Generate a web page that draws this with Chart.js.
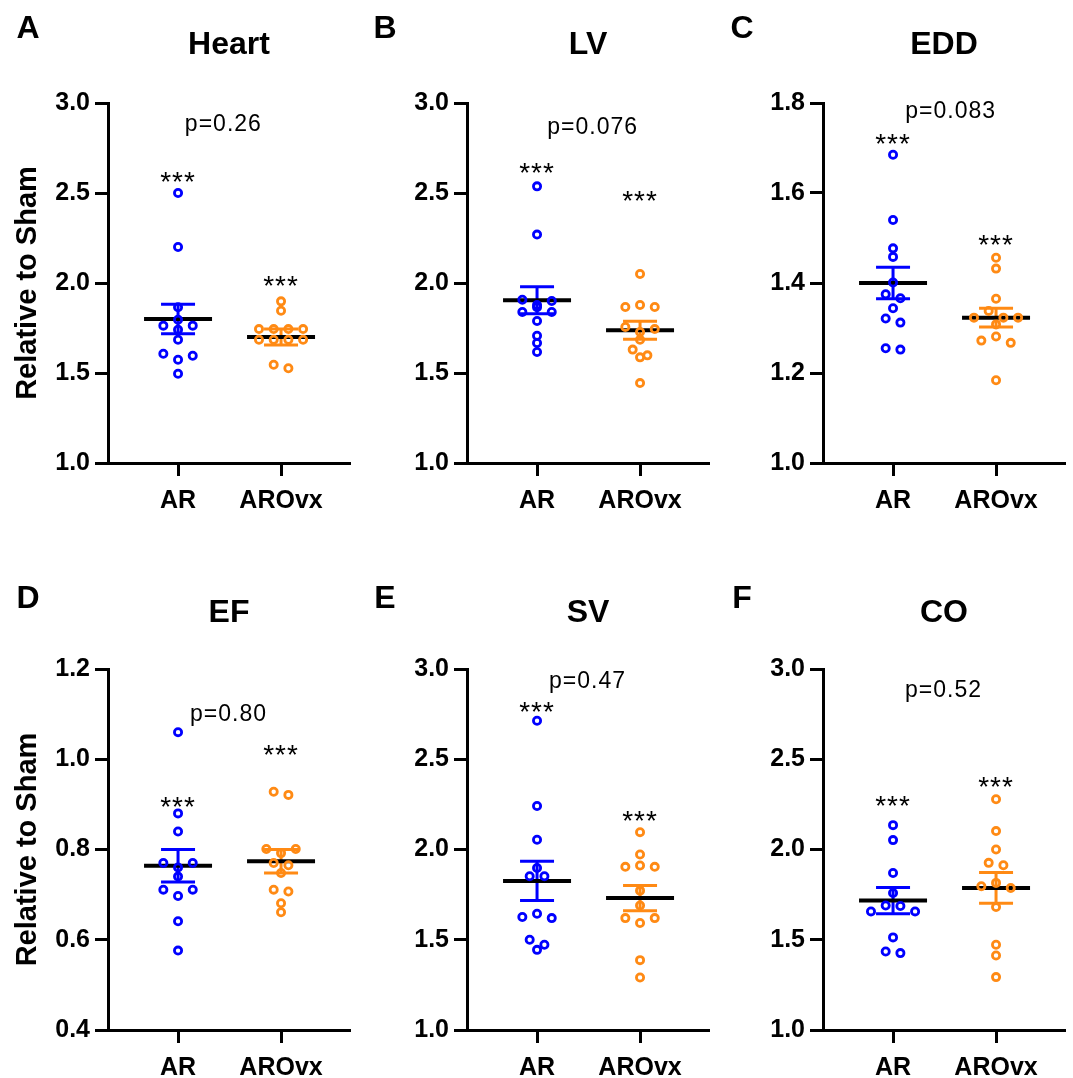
<!DOCTYPE html>
<html lang="en">
<head>
<meta charset="UTF-8">
<title>Relative to Sham</title>
<style>
  body { margin: 0; background: #fff; }
  #wrap { position: relative; width: 1073px; height: 1078px; }
  #wrap canvas { position: absolute; left: 0; top: 0; pointer-events: none; }
</style>
<script src="https://cdn.jsdelivr.net/npm/chart.js"></script>
</head>
<body>
<div id="wrap">
  <canvas id="c0" width="1073" height="1078"></canvas>
  <canvas id="c1" width="1073" height="1078"></canvas>
  <canvas id="c2" width="1073" height="1078"></canvas>
  <canvas id="c3" width="1073" height="1078"></canvas>
  <canvas id="c4" width="1073" height="1078"></canvas>
  <canvas id="c5" width="1073" height="1078"></canvas>
</div>
<script>
// groups and panels
const groups = ['AR', 'AROvx'];
const letters = ['A', 'B', 'C', 'D', 'E', 'F'];
const titles = ['Heart', 'LV', 'EDD', 'EF', 'SV', 'CO'];
const pLabels = ['p=0.26', 'p=0.076', 'p=0.083', 'p=0.80', 'p=0.47', 'p=0.52'];

// individual values (relative to sham)
const heartAR = [2.50, 2.20, 1.865, 1.796, 1.763, 1.763, 1.74, 1.685, 1.607, 1.596, 1.574, 1.496];
const heartAROvx = [1.898, 1.846, 1.744, 1.744, 1.744, 1.744, 1.685, 1.685, 1.685, 1.685, 1.546, 1.526];
const lvAR = [2.537, 2.269, 1.907, 1.90, 1.878, 1.865, 1.839, 1.839, 1.789, 1.707, 1.667, 1.617];
const lvAROvx = [2.05, 1.878, 1.867, 1.867, 1.756, 1.744, 1.728, 1.685, 1.63, 1.598, 1.587, 1.444];
const eddAR = [1.685, 1.54, 1.477, 1.458, 1.401, 1.375, 1.366, 1.344, 1.321, 1.312, 1.255, 1.252];
const eddAROvx = [1.456, 1.432, 1.365, 1.338, 1.323, 1.323, 1.323, 1.308, 1.281, 1.272, 1.267, 1.184];
const efAR = [1.06, 0.88, 0.84, 0.77, 0.77, 0.76, 0.74, 0.711, 0.711, 0.697, 0.641, 0.576];
const efAROvx = [0.928, 0.921, 0.801, 0.801, 0.792, 0.770, 0.765, 0.748, 0.711, 0.707, 0.681, 0.661];
const svAR = [2.713, 2.241, 2.054, 1.898, 1.852, 1.852, 1.644, 1.626, 1.62, 1.50, 1.472, 1.444];
const svAROvx = [2.096, 1.972, 1.911, 1.904, 1.904, 1.772, 1.69, 1.62, 1.62, 1.593, 1.387, 1.291];
const coAR = [2.135, 2.052, 1.87, 1.759, 1.69, 1.687, 1.657, 1.657, 1.513, 1.435, 1.426];
const coAROvx = [2.278, 2.102, 2.0, 1.926, 1.913, 1.815, 1.796, 1.787, 1.681, 1.472, 1.413, 1.293];

// mean and SEM per panel [AR, AROvx]
const heartMean = [1.80, 1.70], heartSem = [0.082, 0.044];
const lvMean = [1.904, 1.737], lvSem = [0.075, 0.05];
const eddMean = [1.40, 1.323], eddSem = [0.035, 0.021];
const efMean = [0.764, 0.774], efSem = [0.036, 0.026];
const svMean = [1.826, 1.731], svSem = [0.109, 0.07];
const coMean = [1.717, 1.787], coSem = [0.073, 0.085];

// y axis ranges
const yMins = [1.0, 1.0, 1.0, 0.4, 1.0, 1.0];
const yMaxs = [3.0, 3.0, 1.8, 1.2, 3.0, 3.0];
const ySteps = [0.5, 0.5, 0.2, 0.2, 0.5, 0.5];

// where the p text and the *** sit (in axis units)
const pPos = [[1.44, 2.889], [1.54, 2.876], [1.56, 1.785], [1.49, 1.103], [1.49, 2.94], [1.49, 2.893]];
const starY = [[2.60, 2.022], [2.652, 2.496], [1.725, 1.50], [0.91, 1.024], [2.80, 2.194], [2.28, 2.385]];

const panelValues = [[heartAR, heartAROvx], [lvAR, lvAROvx], [eddAR, eddAROvx],
                     [efAR, efAROvx], [svAR, svAROvx], [coAR, coAROvx]];
const panelMeans = [heartMean, lvMean, eddMean, efMean, svMean, coMean];
const panelSems = [heartSem, lvSem, eddSem, efSem, svSem, coSem];

const colors = ['#0000ff', '#ff8a14'];
const FONT = "'Liberation Sans', Arial, Helvetica, sans-serif";
const W = 1073, H = 1078;
const colLeft = [108, 467, 823];
const rowTop = [103, 669], rowBottom = [463, 1030];
const areaW = 242, plotH = 360;
const xMin = 0.32, xMax = xMin + areaW / 103;
const pxPerX = areaW / (xMax - xMin);

// spread points that sit at nearly the same height side by side (prism style)
function swarm(values, center, yRange) {
  const pxPerY = plotH / yRange;
  const sorted = values.slice().sort((a, b) => b - a);
  const out = [];
  const step = 14.7 / pxPerX;
  let i = 0;
  while (i < sorted.length) {
    const grp = [sorted[i]];
    let j = i + 1;
    while (j < sorted.length && (sorted[i] - sorted[j]) * pxPerY < 7) { grp.push(sorted[j]); j++; }
    const n = grp.length;
    if (n % 2 === 1) {
      const m = grp.reduce((s, v) => s + v, 0) / n;
      let k = 0;
      grp.forEach((v, idx) => { if (Math.abs(v - m) > Math.abs(grp[k] - m)) k = idx; });
      out.push({ x: center, y: grp[k] });
      grp.filter((v, idx) => idx !== k).forEach((v, idx) => {
        const off = Math.floor(idx / 2) + 1;
        out.push({ x: center + (idx % 2 === 0 ? -off : off) * step, y: v });
      });
    } else {
      grp.forEach((v, idx) => {
        const off = Math.floor(idx / 2) + 0.5;
        out.push({ x: center + (idx % 2 === 0 ? -off : off) * step, y: v });
      });
    }
    i = j;
  }
  return out;
}

function drawText(ctx, txt, cx, cy, font, size, rise, spacing) {
  ctx.font = font;
  ctx.letterSpacing = spacing || '0px';
  ctx.textAlign = 'center';
  ctx.textBaseline = 'alphabetic';
  ctx.fillStyle = '#000';
  ctx.fillText(txt, cx, cy + rise * size);
}

const panelDecor = {
  id: 'panelDecor',
  beforeDatasetsDraw(chart, args, opts) {
    const { ctx, scales: { x, y } } = chart;
    ctx.save();
    ctx.lineCap = 'butt';
    opts.means.forEach((m, i) => {
      const cx = x.getPixelForValue(i + 1);
      const yt = y.getPixelForValue(m + opts.sems[i]);
      const yb = y.getPixelForValue(m - opts.sems[i]);
      ctx.strokeStyle = colors[i];
      ctx.lineWidth = 3;
      ctx.beginPath();
      ctx.moveTo(cx, yt); ctx.lineTo(cx, yb);
      ctx.moveTo(cx - 17, yt); ctx.lineTo(cx + 17, yt);
      ctx.moveTo(cx - 17, yb); ctx.lineTo(cx + 17, yb);
      ctx.stroke();
      const ym = y.getPixelForValue(m);
      ctx.strokeStyle = '#000';
      ctx.lineWidth = 4;
      ctx.beginPath();
      ctx.moveTo(cx - 34, ym); ctx.lineTo(cx + 34, ym);
      ctx.stroke();
    });
    ctx.restore();
  },
  afterDraw(chart, args, opts) {
    const { ctx, chartArea, scales: { x, y } } = chart;
    ctx.save();
    drawText(ctx, opts.letter, opts.letterX, opts.letterY, 'bold 32px ' + FONT, 32, 0.358);
    drawText(ctx, opts.title, (chartArea.left + chartArea.right) / 2, opts.titleY, 'bold 32px ' + FONT, 32, 0.358);
    drawText(ctx, opts.p, x.getPixelForValue(opts.pPos[0]), y.getPixelForValue(opts.pPos[1]),
      '23px ' + FONT, 23, 0.358, '1px');
    opts.stars.forEach((sy, i) => {
      drawText(ctx, '***', x.getPixelForValue(i + 1), y.getPixelForValue(sy), '28px ' + FONT, 28, 0.57, '1px');
    });
    ctx.restore();
  }
};

const tickFont = { family: FONT, size: 25, weight: 'bold' };
const xFont = { family: FONT, size: 25, weight: 'bold' };

for (let p = 0; p < 6; p++) {
  const col = p % 3, row = Math.floor(p / 3);
  const left = colLeft[col], top = rowTop[row], bottom = rowBottom[row];
  const yw = col === 0 ? left : 100;
  const xh = 48;
  const yRange = yMaxs[p] - yMins[p];

  const datasets = panelValues[p].map((vals, g) => ({
    label: groups[g],
    data: swarm(vals, g + 1, yRange),
    pointRadius: 3.6,
    pointHoverRadius: 3.6,
    pointBorderWidth: 2.8,
    pointBorderColor: colors[g],
    pointBackgroundColor: 'rgba(0,0,0,0)',
    showLine: false
  }));

  new Chart(document.getElementById('c' + p), {
    type: 'scatter',
    data: { datasets },
    plugins: [panelDecor],
    options: {
      responsive: false,
      animation: false,
      events: [],
      layout: { padding: { left: left - yw, top: top, right: W - left - areaW, bottom: H - bottom - xh } },
      plugins: {
        legend: { display: false },
        tooltip: { enabled: false },
        panelDecor: {
          letter: letters[p], letterX: [28, 385, 742][col], letterY: [27, 597][row],
          title: titles[p], titleY: [43, 611][row],
          p: pLabels[p], pPos: pPos[p], stars: starY[p],
          means: panelMeans[p], sems: panelSems[p]
        }
      },
      scales: {
        x: {
          type: 'linear', min: xMin, max: xMax,
          afterFit(s) { s.height = xh; },
          afterBuildTicks(s) { s.ticks = [{ value: 1 }, { value: 2 }]; },
          ticks: { callback: v => groups[Math.round(v) - 1], font: xFont, color: '#000', padding: 10, autoSkip: false, maxRotation: 0 },
          grid: { drawOnChartArea: false, drawTicks: true, tickLength: 13, tickWidth: 3, tickColor: '#000' },
          border: { display: true, color: '#000', width: 3 }
        },
        y: {
          min: yMins[p], max: yMaxs[p],
          afterFit(s) { s.width = yw; },
          ticks: { stepSize: ySteps[p], callback: v => v.toFixed(1), font: tickFont, color: '#000', padding: 5 },
          grid: { drawOnChartArea: false, drawTicks: true, tickLength: 13, tickWidth: 3, tickColor: '#000' },
          border: { display: true, color: '#000', width: 3 },
          title: {
            display: col === 0, text: 'Relative to Sham', color: '#000',
            font: { family: FONT, size: 29, weight: 'bold' }, padding: { top: 11, bottom: 0 }
          }
        }
      }
    }
  });
}
</script>
</body>
</html>
